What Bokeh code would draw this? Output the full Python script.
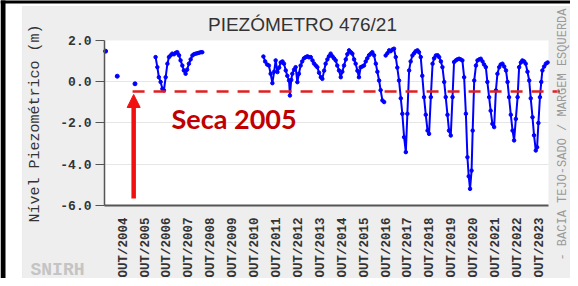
from math import pi
from bokeh.plotting import figure
from bokeh.models import (Range1d, FixedTicker, Label, Arrow, NormalHead,
                          BoxAnnotation, ColumnDataSource)
from bokeh.embed import file_html
from bokeh.resources import INLINE

# ---------------- data (decimal years, metres) ----------------
tick_years = list(range(2004, 2024))
tick_labels = ["OUT/%d" % y for y in tick_years]
y_ticks = [2.0, 0.0, -2.0, -4.0, -6.0]

# isolated early readings
t_early = [2003.93, 2004.46, 2005.27]
v_early = [1.50, 0.28, -0.09]

# 2006-2008
t_a = [2006.21, 2006.29, 2006.36, 2006.44, 2006.52, 2006.59, 2006.67, 2006.75,
       2006.82, 2006.90, 2006.97, 2007.05, 2007.13, 2007.20, 2007.28, 2007.35,
       2007.43, 2007.50, 2007.58, 2007.65, 2007.73, 2007.81, 2007.89, 2007.96,
       2008.04, 2008.12, 2008.19, 2008.27, 2008.34]
v_a = [1.21, 0.72, 0.23, 0.00, -0.33, -0.41, 0.23, 0.89,
       1.21, 1.30, 1.38, 1.35, 1.42, 1.45, 1.30, 1.05,
       0.80, 0.56, 0.40, 0.60, 0.89, 1.10, 1.29, 1.35,
       1.38, 1.40, 1.42, 1.45, 1.45]

# 2011-2016
t_b = [2011.13, 2011.21, 2011.30, 2011.38, 2011.46, 2011.54, 2011.62, 2011.69,
       2011.77, 2011.85, 2011.92, 2012.00, 2012.07, 2012.15, 2012.22, 2012.30,
       2012.34, 2012.40, 2012.45, 2012.53, 2012.60, 2012.68, 2012.75, 2012.83,
       2012.90, 2012.98, 2013.06, 2013.14, 2013.21, 2013.29, 2013.37, 2013.44,
       2013.52, 2013.59, 2013.67, 2013.75, 2013.82, 2013.90, 2013.97, 2014.05,
       2014.12, 2014.20, 2014.28, 2014.35, 2014.43, 2014.50, 2014.58, 2014.66,
       2014.73, 2014.81, 2014.89, 2014.96, 2015.04, 2015.12, 2015.19, 2015.27,
       2015.34, 2015.42, 2015.49, 2015.57, 2015.64, 2015.72, 2015.80, 2015.87,
       2015.95, 2016.03, 2016.10, 2016.18, 2016.26, 2016.33, 2016.41, 2016.48,
       2016.56, 2016.64]
v_b = [1.24, 1.00, 0.85, 0.80, 0.40, -0.06, 0.50, 1.05,
       0.48, 0.70, 0.95, 1.00, 0.89, 0.56, 0.30, 0.07,
       -0.66, 0.10, 0.40, 0.60, 0.72, -0.01, 0.40, 0.80,
       1.00, 1.15, 1.21, 1.25, 1.20, 1.21, 1.05, 0.90,
       0.80, 0.72, 0.45, 0.23, 0.15, 0.55, 0.89, 1.10,
       1.25, 1.38, 1.25, 1.15, 1.05, 0.80, 0.56, 0.23,
       0.50, 0.80, 1.10, 1.35, 1.54, 1.45, 1.38, 1.10,
       0.89, 0.55, 0.23, 0.72, 0.75, 0.80, 1.00, 1.15,
       1.30, 1.38, 1.45, 1.30, 0.89, 0.50, 0.07, -0.40,
       -0.90, -0.98]

# 2016-2024
t_c = [2016.71, 2016.79, 2016.87, 2016.94, 2017.02, 2017.09, 2017.17, 2017.24,
       2017.32, 2017.40, 2017.47, 2017.55, 2017.63, 2017.70, 2017.78, 2017.85,
       2017.93, 2018.01, 2018.08, 2018.16, 2018.23, 2018.31, 2018.38, 2018.46,
       2018.54, 2018.62, 2018.69, 2018.77, 2018.85, 2018.92, 2019.00, 2019.08,
       2019.15, 2019.23, 2019.30, 2019.38, 2019.45, 2019.53, 2019.60, 2019.68,
       2019.76, 2019.83, 2019.91, 2019.98, 2020.06, 2020.13, 2020.21, 2020.29,
       2020.37, 2020.44, 2020.50, 2020.56, 2020.63, 2020.68, 2020.75, 2020.83,
       2020.90, 2020.98, 2021.05, 2021.13, 2021.20, 2021.28, 2021.35, 2021.43,
       2021.50, 2021.58, 2021.66, 2021.74, 2021.81, 2021.89, 2021.96, 2022.04,
       2022.12, 2022.20, 2022.27, 2022.34, 2022.42, 2022.50, 2022.57, 2022.65,
       2022.73, 2022.80, 2022.88, 2022.95, 2023.03, 2023.10, 2023.18, 2023.26,
       2023.33, 2023.41, 2023.48, 2023.56, 2023.62, 2023.68, 2023.75, 2023.81,
       2023.86, 2023.94, 2024.02, 2024.10]
v_c = [1.29, 1.40, 1.54, 1.50, 1.58, 1.62, 1.21, 0.70,
       0.07, -0.80, -1.55, -2.69, -3.42, -1.55, 0.56, 1.00,
       1.29, 1.40, 1.50, 1.54, 1.45, 1.21, 0.30, -0.74,
       -1.60, -2.37, -2.53, -0.74, 0.89, 1.15, 1.29, 1.30,
       1.21, 1.00, 0.72, 0.00, -0.74, -1.60, -2.37, -2.61,
       -0.74, 0.97, 1.05, 1.10, 1.13, 1.10, 1.05, 0.23,
       -1.55, -3.67, -4.60, -5.21, -4.32, -2.37, 0.07, 0.80,
       1.05, 1.10, 1.13, 1.00, 0.85, 0.72, 0.00, -0.74,
       -1.40, -2.04, -2.20, -0.41, 0.40, 0.72, 0.85, 0.89,
       0.75, 0.56, 0.00, -0.74, -1.60, -2.37, -2.85, -1.80,
       -0.74, 0.72, 0.95, 1.05, 1.00, 0.89, 0.50, 0.07,
       -0.80, -1.72, -2.60, -3.34, -3.18, -2.00, -0.74, 0.00,
       0.56, 0.75, 0.89, 0.95]

drought_level = -0.46
drought_year = 2005.21
dash_start = 2005.16
dash_end = 2024.66
arrow_bottom = -5.68
arrow_top = -0.61

# plotting window (data area) and full-canvas ranges
x0, x1 = 2003.88, 2024.14
y0, y1 = -6.02, 2.02
W, H = 570, 278

p = figure(width=W, height=H, output_backend="svg", toolbar_location=None,
           title=None,
           x_range=Range1d(1999.133, 2025.144), y_range=Range1d(-9.578, 3.969),
           min_border=0, min_border_left=0, min_border_right=0,
           min_border_top=0, min_border_bottom=0)
p.background_fill_color = "white"
p.border_fill_color = "white"
p.outline_line_color = None

def sbox(left, right, bottom, top, fill, line=None, level="image"):
    return BoxAnnotation(left=left, right=right, bottom=bottom, top=top,
                         left_units="screen", right_units="screen",
                         top_units="screen", bottom_units="screen",
                         fill_color=fill, fill_alpha=1, line_color=line,
                         level=level)

# grey panel and white data area
p.add_layout(sbox(22, 700, -20, H - 6, "#eeeeee", "#cfcfcf"))
p.add_layout(BoxAnnotation(left=x0, right=x1, bottom=y0, top=y1,
                           fill_color="white", fill_alpha=1, line_color=None,
                           level="image"))

# axes placed at the data-area edges
p.xaxis.fixed_location = y0
p.xaxis.bounds = (x0, x1)
p.xaxis.ticker = FixedTicker(ticks=[y + 0.75 for y in tick_years])
p.xaxis.major_label_overrides = {y + 0.75: lab for y, lab in zip(tick_years, tick_labels)}
p.xaxis.major_label_orientation = pi / 2
p.xaxis.major_label_text_font = "Liberation Mono"
p.xaxis.major_label_text_font_style = "bold"
p.xaxis.major_label_text_font_size = "12.5px"
p.xaxis.major_label_text_color = "#333333"
p.xaxis.major_tick_out = 0
p.xaxis.major_tick_in = 0
p.xaxis.minor_tick_out = 0
p.xaxis.minor_tick_in = 0
p.xaxis.major_label_standoff = 12
p.xaxis.axis_line_color = "#555555"
p.xaxis.axis_line_width = 2

p.yaxis.fixed_location = x0
p.yaxis.bounds = (y0, y1)
p.yaxis.ticker = FixedTicker(ticks=y_ticks)
p.yaxis.major_label_overrides = {t: "%.1f" % t for t in y_ticks}
p.yaxis.major_label_text_font = "Liberation Mono"
p.yaxis.major_label_text_font_style = "bold"
p.yaxis.major_label_text_font_size = "13px"
p.yaxis.major_label_text_color = "#333333"
p.yaxis.major_tick_out = 9
p.yaxis.major_tick_in = 0
p.yaxis.minor_tick_out = 0
p.yaxis.minor_tick_in = 0
p.yaxis.major_label_standoff = 4
p.yaxis.axis_line_color = "#555555"
p.yaxis.major_tick_line_color = "#555555"
p.yaxis.axis_line_width = 1.5

p.xgrid.grid_line_color = None
p.ygrid.ticker = FixedTicker(ticks=[0.0, -2.0, -4.0])
p.ygrid.bounds = (y0, y1)
p.ygrid.cross_bounds = (x0, x1)
p.ygrid.grid_line_color = "#e6e6e6"

# series
blue = "#0000ff"
for tx, vy in [(t_a, v_a), (t_b, v_b), (t_c, v_c)]:
    src = ColumnDataSource(dict(t=tx, v=vy))
    p.line("t", "v", source=src, line_color=blue, line_width=2)
    p.scatter("t", "v", source=src, size=3.5, color=blue)
p.scatter(t_early, v_early, size=4, color=blue)

# drought reference line and arrow
p.segment(x0=[dash_start], y0=[drought_level], x1=[dash_end], y1=[drought_level],
          line_color="#e02020", line_width=2.5, line_dash="12 9")
p.add_layout(Arrow(x_start=drought_year, y_start=arrow_bottom,
                   x_end=drought_year, y_end=arrow_top,
                   end=NormalHead(size=13, fill_color="#f01010", line_color="#f01010"),
                   line_color="#f01010", line_width=4.5))
p.add_layout(Label(x=2006.94, y=-1.78, text="Seca 2005", text_font="Lato",
                   text_font_style="bold", text_font_size="27px",
                   text_color="#c00000", text_baseline="middle"))

# texts around the data area
p.add_layout(Label(x=302, y=H - 24, x_units="screen", y_units="screen",
                   text="PIEZÓMETRO 476/21", text_font="Liberation Sans",
                   text_font_size="19px", text_color="#333333",
                   text_align="center", text_baseline="middle"))
p.add_layout(Label(x=35, y=H - 123, x_units="screen", y_units="screen",
                   text="Nível Piezométrico (m)", text_font="Liberation Mono",
                   text_font_size="15px", text_color="#333333", angle=pi / 2,
                   text_align="center", text_baseline="middle"))
p.add_layout(Label(x=562, y=H - 8, x_units="screen", y_units="screen",
                   text="- BACIA TEJO-SADO / MARGEM ESQUERDA",
                   text_font="Liberation Mono", text_font_size="12px",
                   text_color="#9a9a9a", angle=pi / 2,
                   text_align="right", text_baseline="middle"))
p.add_layout(Label(x=30, y=9, x_units="screen", y_units="screen",
                   text="SNIRH", text_font="Liberation Mono",
                   text_font_style="bold", text_font_size="18px",
                   text_color="#c4c4c4", text_baseline="middle"))

# black frame edges of the original image
p.add_layout(sbox(0, 5, -20, H + 20, "black", level="overlay"))
p.add_layout(sbox(0, 700, H - 3, H + 20, "black", level="overlay"))

open("out.html", "w").write(file_html(p, INLINE))
